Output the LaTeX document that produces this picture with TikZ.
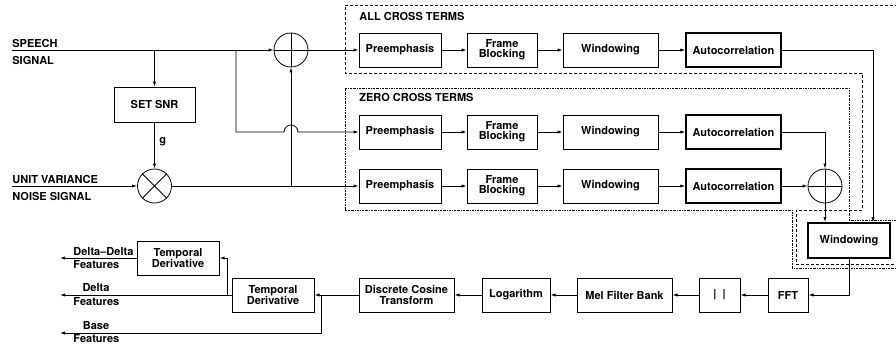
\documentclass[tikz,border=0pt]{standalone}
\usepackage{fontspec}
\setmainfont{TeX Gyre Heros}
\usetikzlibrary{arrows.meta}
\begin{document}
\begin{tikzpicture}[x=1pt,y=-1pt,
  font=\fontsize{11}{10.2}\selectfont\bfseries,
  line width=0.8pt,
  arr/.style={-{Latex[length=5pt,width=3.2pt]}},
  thinbox/.style={draw, line width=0.7pt, minimum height=34, inner sep=0pt, align=center},
  midbox/.style={draw, line width=1pt, minimum height=34, inner sep=0pt, align=center},
  thickbox/.style={draw, line width=1.5pt, minimum height=34, inner sep=0pt, align=center},
  opcirc/.style={draw, circle, minimum size=34, inner sep=0pt, line width=0.8pt},
  lbl/.style={anchor=west, inner sep=0pt},
  allterms/.style={line width=0.8pt, dash pattern=on 3pt off 2pt},
  zeroterms/.style={line width=0.8pt, dash pattern=on 2pt off 1pt on 0.6pt off 1pt}
]
\useasboundingbox (0,0) rectangle (896,348);

% dashed groups
\draw[allterms] (345,5) -- (900,5) -- (900,264) -- (796,264) -- (796,210) -- (862,210) -- (862,73) -- (345,73) -- cycle;
\draw[zeroterms] (345,88) -- (849,88) -- (849,220) -- (900,220) -- (900,268) -- (792,268) -- (792,210) -- (345,210) -- cycle;
\node[lbl] (tall) at (359,16) {ALL CROSS TERMS};
\node[lbl] (tzero) at (359,97) {ZERO CROSS TERMS};

% input labels
\node[lbl] (ls1) at (12,43) {SPEECH};
\node[lbl] (ls2) at (12,60) {SIGNAL};
\node[lbl] (ln1) at (12,179) {UNIT VARIANCE};
\node[lbl] (ln2) at (12,196) {NOISE SIGNAL};

% left part
\node[thinbox, minimum width=81, minimum height=35] (snr) at (154.5,104.5) {SET SNR};
\node[opcirc] (add1) at (291,50) {};
\node[opcirc] (mul) at (154.5,186) {};
\draw (add1.north) -- (add1.south) (add1.west) -- (add1.east);
\draw (mul.north east) -- (mul.south west) (mul.north west) -- (mul.south east);
\node[anchor=west, inner sep=0pt] (g) at (159,142) {g};

% rows
\foreach \r/\y in {1/50, 2/132, 3/186} {
  \node[thinbox, minimum width=82] (pre\r) at (400,\y) {Preemphasis};
  \node[thinbox, minimum width=70] (fb\r) at (502,\y) {Frame\\Blocking};
  \node[thinbox, minimum width=95] (win\r) at (610.5,\y) {Windowing};
  \node[thickbox, minimum width=95] (ac\r) at (733.5,\y) {Autocorrelation};
  \draw[arr] (pre\r.east) -- (fb\r.west);
  \draw[arr] (fb\r.east) -- (win\r.west);
  \draw[arr] (win\r.east) -- (ac\r.west);
}
\node[opcirc] (add2) at (825,186) {};
\draw (add2.north) -- (add2.south) (add2.west) -- (add2.east);

% bottom chain
\node[thickbox, line width=1.8pt, minimum width=82, minimum height=35] (winb) at (849,240.5) {Windowing};
\node[midbox, minimum width=40] (fft) at (788,295) {FFT};
\node[midbox, minimum width=41] (absb) at (719.5,295) {|\hspace{6pt}|};
\node[midbox, minimum width=95] (mel) at (624.5,295) {Mel Filter Bank};
\node[midbox, minimum width=68] (logb) at (516,295) {Logarithm};
\node[midbox, minimum width=95] (dct) at (406.5,295) {Discrete Cosine\\Transform};
\node[midbox, minimum width=82] (td2) at (273,295) {Temporal\\Derivative};
\node[midbox, minimum width=82] (td1) at (178,258) {Temporal\\Derivative};

% output labels
\node[lbl] (oddd) at (73,252) {Delta–Delta};
\node[lbl] (oddf) at (73,265) {Features};
\node[inner sep=0pt] (odd) at (96,288) {Delta};
\node[lbl] (odf) at (73,302) {Features};
\node[inner sep=0pt] (obb) at (96,326) {Base};
\node[lbl] (obf) at (73,339) {Features};

% connectors: left
\coordinate (sp) at (12,50);
\coordinate (nz) at (12,186);
\coordinate (j1) at (154.5,50);
\coordinate (j2) at (291,186);
\coordinate (j3) at (236,50);
\coordinate (j3b) at (236,132);
\coordinate (hop) at (284,132);
\draw[arr] (sp) -- (add1.west);
\draw[arr] (add1.east) -- (pre1.west);
\draw[arr] (j1) -- (snr.north);
\draw[arr] (snr.south) -- (mul.north);
\draw[arr] (nz) -- (mul.west);
\draw[arr] (mul.east) -- (pre3.west);
\draw[arr] (j2) -- (add1.south);
\draw[arr] (j3) -- (j3b) -- (hop) arc (180:360:7) -- (pre2.west);

% connectors: right
\coordinate (k1) at (873,50);
\draw[arr] (ac1.east) -- (k1) -- (k1 |- winb.north);
\draw[arr] (ac2.east) -| (add2.north);
\draw[arr] (ac3.east) -- (add2.west);
\draw[arr] (add2.south) -- (add2 |- winb.north);
\draw[arr] (winb.south) |- (fft.east);
\draw[arr] (fft.west) -- (absb.east);
\draw[arr] (absb.west) -- (mel.east);
\draw[arr] (mel.west) -- (logb.east);
\draw[arr] (logb.west) -- (dct.east);
\draw[arr] (dct.west) -- (td2.east);

% outputs
\coordinate (b1) at (321,295);
\coordinate (b1e) at (60,333);
\coordinate (d1e) at (60,295);
\coordinate (d2) at (227,295);
\coordinate (dde) at (60,258);
\draw[arr] (b1) |- (b1e);
\draw[arr] (td2.west) -- (d1e);
\draw[arr] (d2) |- (td1.east);
\draw[arr] (td1.west) -- (dde);
\end{tikzpicture}
\end{document}
